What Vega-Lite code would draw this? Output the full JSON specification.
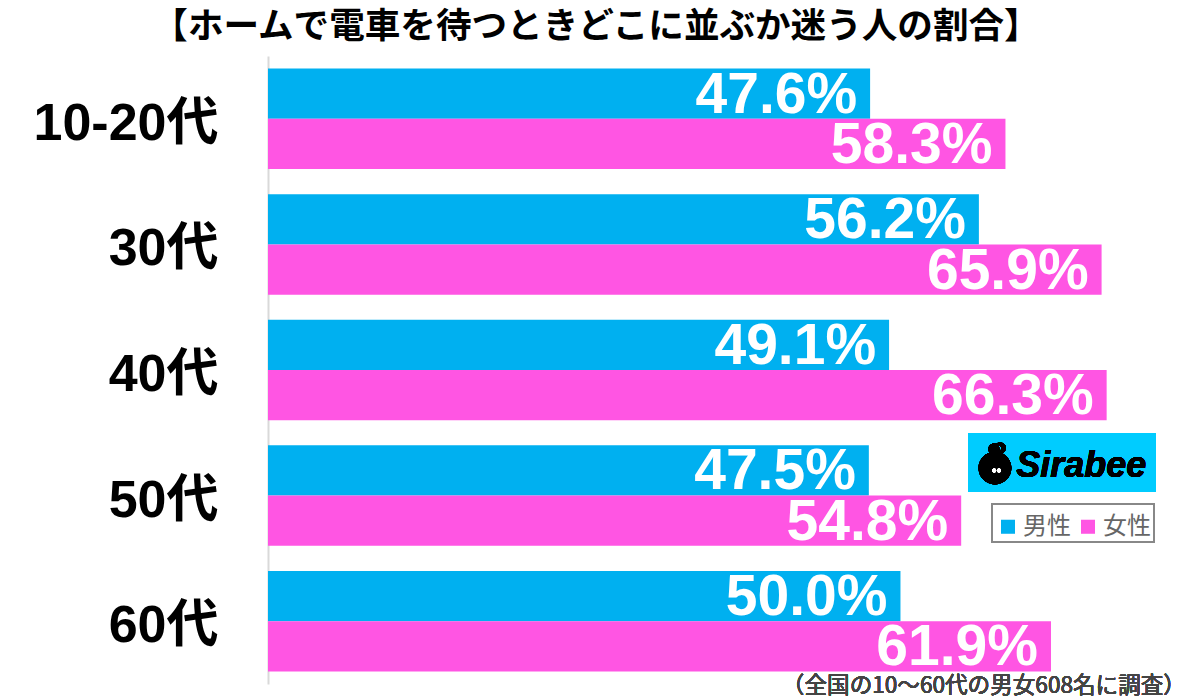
{
  "$schema": "https://vega.github.io/schema/vega-lite/v6.json",
  "width": 932,
  "height": 628,
  "autosize": "none",
  "padding": {"left": 268, "top": 56, "right": 0, "bottom": 15},
  "background": "white",
  "title": {
    "text": "【ホームで電車を待つときどこに並ぶか迷う人の割合】",
    "font": "Noto Sans CJK JP",
    "fontWeight": "bold",
    "fontSize": 35.6,
    "color": "#000000",
    "anchor": "middle",
    "limit": 1000,
    "dx": -138,
    "offset": 10
  },
  "data": {
    "values": [
      {"age": "10-20代", "gender": "男性", "rate": 0.476},
      {"age": "10-20代", "gender": "女性", "rate": 0.583},
      {"age": "30代", "gender": "男性", "rate": 0.562},
      {"age": "30代", "gender": "女性", "rate": 0.659},
      {"age": "40代", "gender": "男性", "rate": 0.491},
      {"age": "40代", "gender": "女性", "rate": 0.663},
      {"age": "50代", "gender": "男性", "rate": 0.475},
      {"age": "50代", "gender": "女性", "rate": 0.548},
      {"age": "60代", "gender": "男性", "rate": 0.5},
      {"age": "60代", "gender": "女性", "rate": 0.619}
    ]
  },
  "layer": [
    {
      "encoding": {
        "y": {
          "field": "age",
          "type": "nominal",
          "sort": ["10-20代", "30代", "40代", "50代", "60代"],
          "scale": {"paddingInner": 0.2, "paddingOuter": 0.1},
          "title": null,
          "axis": {
            "domainColor": "#d9d9d9",
            "domainWidth": 2,
            "ticks": false,
            "labelPadding": 50,
            "labelOffset": 5,
            "labelLimit": 260,
            "labelFont": "Liberation Sans, Noto Sans CJK JP",
            "labelFontWeight": "bold",
            "labelFontSize": 52,
            "labelColor": "#000000"
          }
        },
        "x": {
          "field": "rate",
          "type": "quantitative",
          "stack": null,
          "scale": {"domain": [0, 0.7368], "nice": false},
          "axis": null
        },
        "yOffset": {"field": "gender", "sort": ["男性", "女性"], "scale": {"domain": ["男性", "女性"]}}
      },
      "layer": [
        {
          "mark": {"type": "bar"},
          "encoding": {
            "color": {
              "field": "gender",
              "type": "nominal",
              "scale": {"domain": ["男性", "女性"], "range": ["#00B0F0", "#FF55E3"]},
              "legend": {
                "title": null,
                "orient": "none",
                "legendX": 724,
                "legendY": 448,
                "direction": "horizontal",
                "symbolType": "M-.693 -.36H.027V.36H-.693Z",
                "symbolSize": 1521,
                "symbolStrokeWidth": 0,
                "symbolOpacity": 1,
                "labelFont": "Noto Sans CJK JP",
                "labelFontSize": 24,
                "labelColor": "#666666",
                "labelOffset": -11,
                "columnPadding": 4,
                "padding": 3,
                "strokeColor": "#888888",
                "fillColor": "#ffffff"
              }
            }
          }
        },
        {
          "mark": {
            "type": "text",
            "align": "right",
            "baseline": "middle",
            "dx": -13,
            "dy": 2,
            "font": "Liberation Sans",
            "fontWeight": "bold",
            "fontSize": 57,
            "color": "#ffffff"
          },
          "encoding": {
            "text": {"field": "rate", "type": "quantitative", "format": ".1%"}
          }
        }
      ]
    },
    {
      "mark": {
        "type": "point",
        "filled": true,
        "opacity": 1,
        "color": "#00CCFF",
        "size": 13924,
        "shape": "M-1.593 -.5H1.593V.5H-1.593Z"
      },
      "encoding": {
        "x": {"datum": 0.6277},
        "y": {"datum": "50代", "bandPosition": 0.171}
      }
    },
    {
      "mark": {
        "type": "point",
        "filled": true,
        "opacity": 1,
        "color": "#000000",
        "size": 1600,
        "shape": "M-.82 0A.82 .82 0 1 1 .82 0A.82 .82 0 1 1 -.82 0ZM-.33 -.95A.28 .28 0 1 1 .23 -.95A.28 .28 0 1 1 -.33 -.95ZM.05 -1.23C.45 -1.4 .65 -1.08 .5 -.85C.35 -.6 0 -.55 -.5 -.5L-.3 -.72C0 -.75 .25 -.8 .32 -.95C.38 -1.08 .25 -1.15 .05 -1.1Z"
      },
      "encoding": {
        "x": {"datum": 0.5747},
        "y": {"datum": "50代", "bandPosition": 0.226}
      }
    },
    {
      "mark": {
        "type": "point",
        "filled": true,
        "opacity": 1,
        "color": "#ffffff",
        "size": 75,
        "shape": "M-1 0A.45 .45 0 1 1 -.1 0A.45 .45 0 1 1 -1 0ZM.1 0A.45 .45 0 1 1 1 0A.45 .45 0 1 1 .1 0Z"
      },
      "encoding": {
        "x": {"datum": 0.576},
        "y": {"datum": "50代", "bandPosition": 0.25}
      }
    },
    {
      "mark": {
        "type": "text",
        "align": "left",
        "baseline": "middle",
        "font": "Liberation Sans",
        "fontWeight": "bold",
        "fontStyle": "italic",
        "fontSize": 36,
        "color": "#000000"
      },
      "encoding": {
        "x": {"datum": 0.5915},
        "y": {"datum": "50代", "bandPosition": 0.21},
        "text": {"value": "Sirabee"}
      }
    },
    {
      "mark": {
        "type": "text",
        "align": "right",
        "baseline": "middle",
        "dy": 15,
        "font": "Noto Sans CJK JP",
        "fontSize": 22.6,
        "color": "#444444"
      },
      "encoding": {
        "x": {"datum": 0.7257},
        "y": {"datum": "60代", "bandPosition": 1},
        "text": {"value": "（全国の10〜60代の男女608名に調査）"}
      }
    }
  ],
  "config": {
    "view": {"stroke": null},
    "legend": {"strokeWidth": 2}
  }
}
